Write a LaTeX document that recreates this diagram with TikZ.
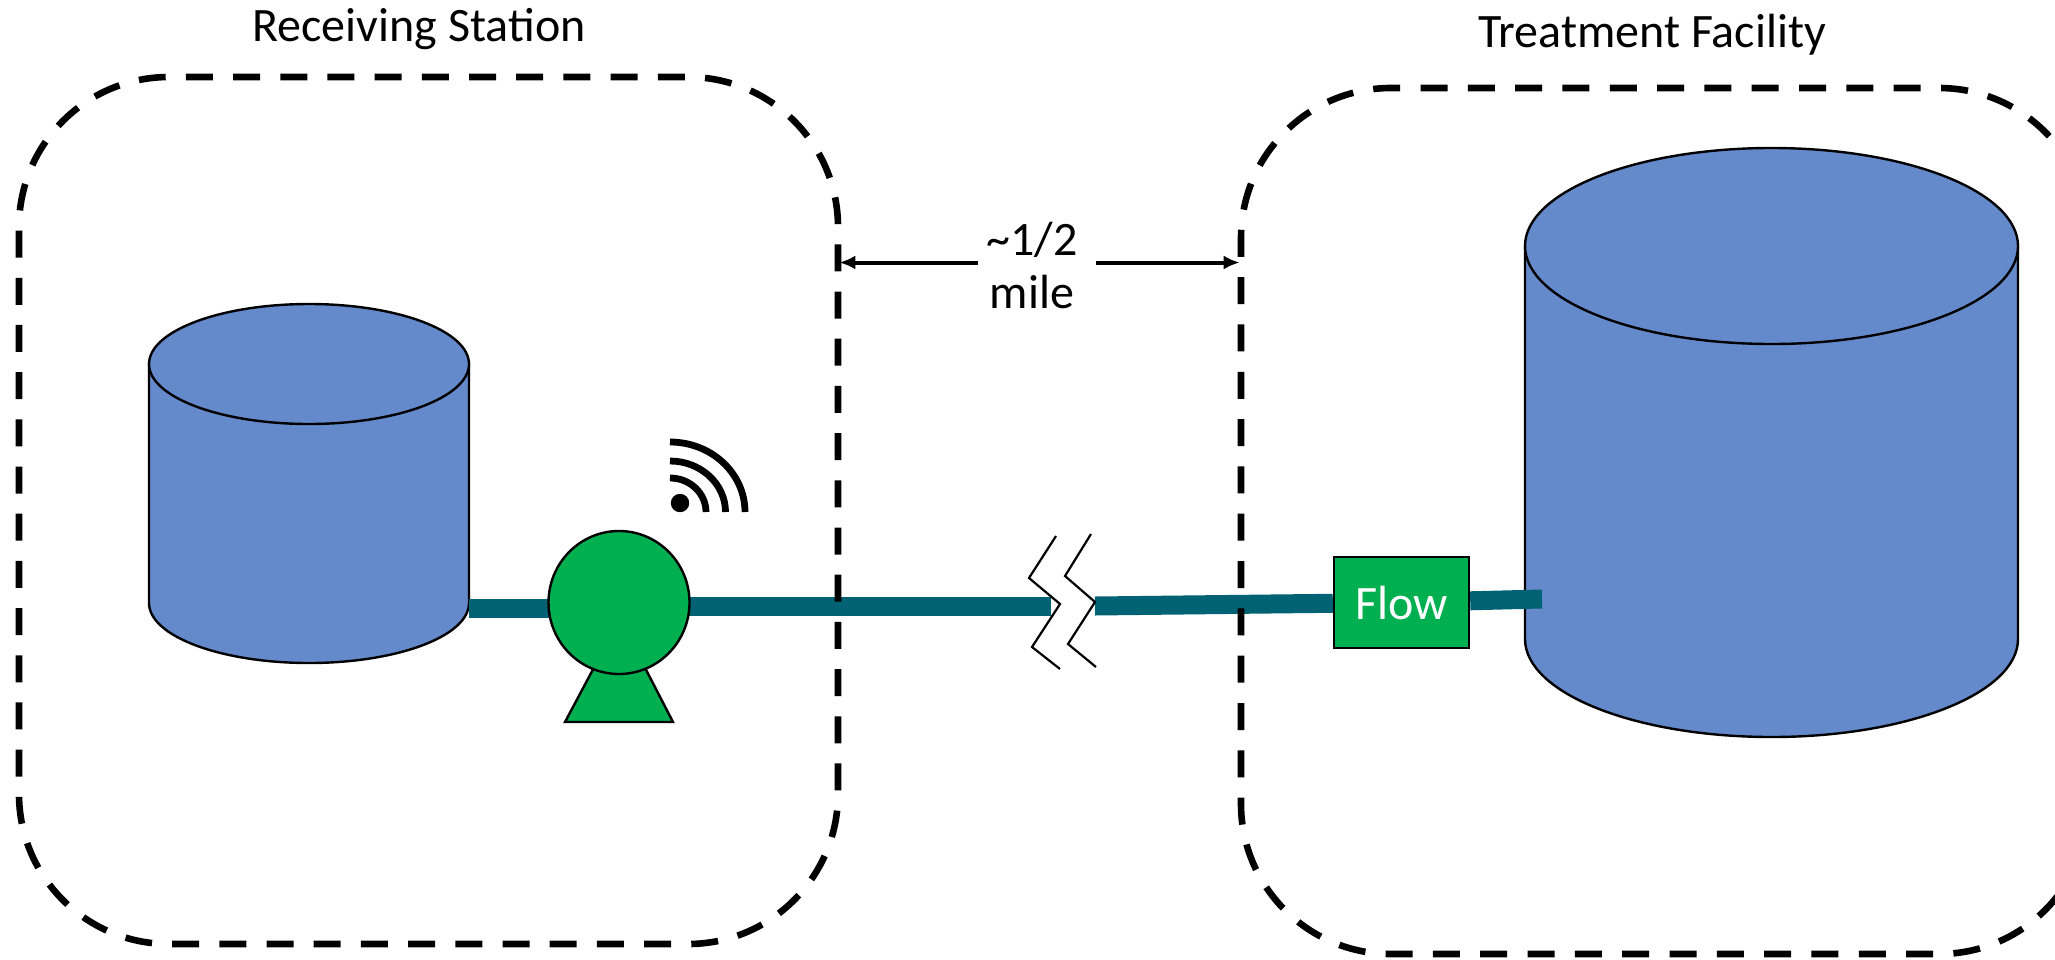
\documentclass[tikz,border=0pt]{standalone}
\usepackage{fontspec}
\setmainfont{Carlito}
\usetikzlibrary{positioning}
\usetikzlibrary{shapes.geometric}
\usetikzlibrary{backgrounds}
\usetikzlibrary{arrows.meta}
\definecolor{tankblue}{HTML}{648ACB}
\definecolor{pumpgreen}{HTML}{00B050}
\definecolor{pipeteal}{HTML}{006272}
\tikzset{
	caption/.style={
		font=\fontsize{24}{26.5}\selectfont,
		align=center,
		inner sep=0pt
	},
	zone/.style={
		rectangle,
		draw,
		line width=3.3pt,
		rounded corners=75pt,
		inner sep=0pt
	},
	tank/.style={
		draw=black,
		line width=1.2pt,
		fill=tankblue
	},
	pipe/.style={
		draw=pipeteal,
		line width=9.5pt
	},
	wave/.style={
		line width=3.4pt
	},
	zigzag/.style={
		line width=1.1pt
	},
	span/.style={
		-{Latex[length=8pt,width=7pt]},
		line width=2pt,
		shorten >=-1pt
	}
}
\begin{document}
\begin{tikzpicture}[x=.5pt,y=-.5pt]
	\useasboundingbox (0,0) rectangle (2055,959);

	\draw node[caption](StationTitle) at (419,29){Receiving Station};
	\draw node[caption](FacilityTitle) at (1652,35){Treatment Facility};

	\draw node[zone, dash pattern=on 13.5pt off 10.095pt, dash phase=22pt, minimum width=409.5pt, minimum height=433.5pt](Station) at (428.5,510.5){};
	\draw node[zone, dash pattern=on 13.5pt off 10.16pt, dash phase=14.5pt, minimum width=424pt, minimum height=433pt](Facility) at (1665,521){};

	\draw [fill=pumpgreen, line width=1.2pt] (565,722) -- (673,722) -- (641,660) -- (598,660) -- cycle;
	\draw node[ellipse, draw, fill=pumpgreen, line width=1.2pt, minimum width=70.5pt, minimum height=71.5pt, inner sep=0pt](Pump) at (619,602.5){};
	\draw node[rectangle, draw, fill=pumpgreen, line width=1.2pt, minimum width=67.5pt, minimum height=45.5pt, inner sep=0pt, text=white, font=\fontsize{24}{26}\selectfont](Flow) at (1401.5,602.5){Flow};

	\coordinate (PipeIn) at (469,608);
	\coordinate (BreakLeft) at (1051,606);
	\coordinate (BreakRight) at (1095,606);
	\coordinate (PipeOut) at (1542,599);

	\begin{scope}[on background layer]
		\draw [tank] (149,364) -- (149,603) arc (180:360:80pt and 30pt) -- (469,364) -- cycle;
		\draw [tank] (309,364) ellipse (80pt and 30pt);
		\draw [tank] (1525,246) -- (1525,639) arc (180:360:123.25pt and 49pt) -- (2018,246) -- cycle;
		\draw [tank] (1771.5,246) ellipse (123.25pt and 49pt);
		\draw [pipe] (PipeIn) -- (PipeIn -| Pump);
		\draw [pipe] (Pump |- BreakLeft) -- (BreakLeft);
		\draw [pipe] (BreakRight) -- (Flow);
		\draw [pipe] (Flow) -- (PipeOut);
	\end{scope}

	\fill (680,503) circle (4.6pt);
	\draw [wave] (670,478) arc (90:0:18pt and 17pt);
	\draw [wave] (670,461) arc (90:0:27.75pt and 25.5pt);
	\draw [wave] (670,442) arc (90:0:37.5pt and 35pt);

	\draw [zigzag] (1056,536) -- (1029,578) -- (1060,604) -- (1032,647) -- (1060,669);
	\draw [zigzag] (1091,534) -- (1065,576) -- (1095,602) -- (1068,644) -- (1096,667);

	\draw node[caption, minimum width=54pt](Distance) at (1032,265){\textasciitilde 1/2\\ mile};
	\draw [span] ([yshift=1.25pt]Distance.west) -- ([yshift=1.25pt]Distance.west -| Station.east);
	\draw [span] ([xshift=5pt,yshift=1.25pt]Distance.east) -- ([yshift=1.25pt]Distance.east -| Facility.west);
\end{tikzpicture}
\end{document}
